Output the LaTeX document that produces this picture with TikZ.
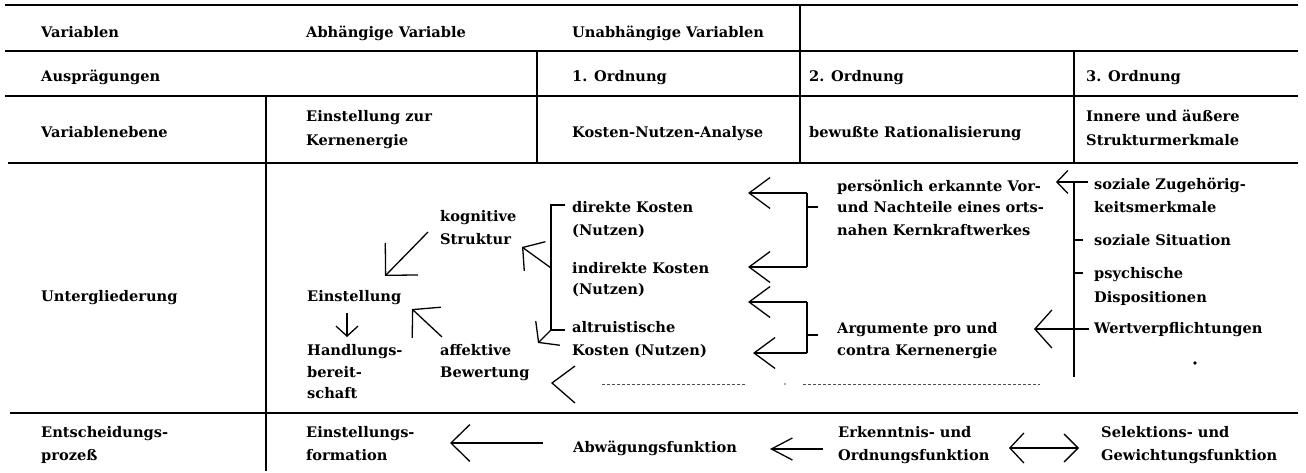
\documentclass[tikz,border=0pt]{standalone}
\usepackage{fontspec}
\setmainfont{DejaVu Serif}
\usetikzlibrary{arrows.meta}
\begin{document}
\begin{tikzpicture}[x=1pt,y=-1pt,
  txt/.style={anchor=base west, inner sep=0pt, font=\fontsize{14.6}{17}\selectfont\bfseries},
  tline/.style={line width=1.8pt},
  arr/.style={line width=1.3pt},
  barb/.style 2 args={arr,-{Straight Barb[length=#1pt,width=#2pt]}},
  dline/.style={line width=1pt, black!70, dash pattern=on 3pt off 2pt}
]
\useasboundingbox (0,0) rectangle (1306,473);
% ---------- table rules ----------
\draw[tline] (5,5) -- (1298,5);
\draw[tline] (5,51) -- (1298,51);
\draw[tline] (5,96) -- (1298,96);
\draw[tline] (8,163) -- (1298,163);
\draw[tline] (10,413) -- (1298,413);
\draw[tline] (266,96) -- (266,471);
\draw[tline] (537,51) -- (537,163);
\draw[tline] (800,5) -- (800,163);
\draw[tline] (1074,51) -- (1074,163);
% ---------- header texts ----------
\node[txt] (var) at (41,38) {Variablen};
\node[txt] (abh) at (306,38) {Abhängige Variable};
\node[txt] (unabh) at (572,38) {Unabhängige Variablen};
\node[txt] (ausp) at (41,82) {Ausprägungen};
\node[txt] (o1) at (572,82) {1. Ordnung};
\node[txt] (o2) at (809,82) {2. Ordnung};
\node[txt] (o3) at (1086,82) {3. Ordnung};
\node[txt] (vebene) at (41,138) {Variablenebene};
\node[txt] (ezk1) at (306,122) {Einstellung zur};
\node[txt] (ezk2) at (306,146) {Kernenergie};
\node[txt] (kna) at (572,138) {Kosten-Nutzen-Analyse};
\node[txt] (bewr) at (809,138) {bewußte Rationalisierung};
\node[txt] (ina1) at (1086,122) {Innere und äußere};
\node[txt] (ina2) at (1086,146) {Strukturmerkmale};
% ---------- Untergliederung ----------
\node[txt] (unterg) at (41,301) {Untergliederung};
\node[txt] (kog1) at (440,222) {kognitive};
\node[txt] (kog2) at (440,244) {Struktur};
\node[txt] (einst) at (307,301) {Einstellung};
\node[txt] (hb1) at (307,355) {Handlungs-};
\node[txt] (hb2) at (307,377) {bereit-};
\node[txt] (hb3) at (307,398) {schaft};
\node[txt] (aff1) at (440,355) {affektive};
\node[txt] (aff2) at (440,377) {Bewertung};
\node[txt] (dk1) at (572,212) {direkte Kosten};
\node[txt] (dk2) at (572,235) {(Nutzen)};
\node[txt] (ik1) at (572,273) {indirekte Kosten};
\node[txt] (ik2) at (572,294) {(Nutzen)};
\node[txt] (ak1) at (572,332) {altruistische};
\node[txt] (ak2) at (572,355) {Kosten (Nutzen)};
\node[txt] (pv1) at (837,192) {persönlich erkannte Vor-};
\node[txt] (pv2) at (837,213) {und Nachteile eines orts-};
\node[txt] (pv3) at (837,235) {nahen Kernkraftwerkes};
\node[txt] (arg1) at (837,333) {Argumente pro und};
\node[txt] (arg2) at (837,355) {contra Kernenergie};
\node[txt] (sz1) at (1094,190) {soziale Zugehörig-};
\node[txt] (sz2) at (1094,212) {keitsmerkmale};
\node[txt] (ss) at (1094,245) {soziale Situation};
\node[txt] (pd1) at (1094,278) {psychische};
\node[txt] (pd2) at (1094,302) {Dispositionen};
\node[txt] (wv) at (1094,333) {Wertverpflichtungen};
% ---------- Entscheidungsprozess ----------
\node[txt] (ep1) at (41,437) {Entscheidungs-};
\node[txt] (ep2) at (41,460) {prozeß};
\node[txt] (ef1) at (306,437) {Einstellungs-};
\node[txt] (ef2) at (306,460) {formation};
\node[txt] (abw) at (573,452) {Abwägungsfunktion};
\node[txt] (eo1) at (838,437) {Erkenntnis- und};
\node[txt] (eo2) at (838,460) {Ordnungsfunktion};
\node[txt] (sg1) at (1101,437) {Selektions- und};
\node[txt] (sg2) at (1101,460) {Gewichtungsfunktion};
% ---------- connector coordinates ----------
\coordinate (a1s) at (428,232); \coordinate (a1e) at (385,276);
\coordinate (a2s) at (347,313); \coordinate (a2e) at (347,337);
\coordinate (a3s) at (442,337); \coordinate (a3e) at (412,309);
\coordinate (bkT) at (565,205); \coordinate (bkTc) at (551,205);
\coordinate (bkB) at (565,330); \coordinate (bkBc) at (551,330);
\coordinate (bkM) at (551,268);
\coordinate (a4e) at (522,247);
\coordinate (a5e) at (538,343);
\coordinate (r1a) at (807,193); \coordinate (r1b) at (807,267);
\coordinate (r1s) at (807,207); \coordinate (r1t) at (818,207);
\coordinate (r2a) at (807,302); \coordinate (r2b) at (807,353);
\coordinate (r2s) at (807,335); \coordinate (r2t) at (818,335);
\coordinate (t1) at (748,193); \coordinate (t2) at (748,267);
\coordinate (t3) at (748,302); \coordinate (t4) at (753,353);
\coordinate (v3a) at (1074,183); \coordinate (v3b) at (1074,377);
\coordinate (sza) at (1088,182); \coordinate (szt) at (1056,182);
\coordinate (ssa) at (1074,240); \coordinate (ssb) at (1083,240);
\coordinate (pda) at (1074,273); \coordinate (pdb) at (1083,273);
\coordinate (wva) at (1089,329); \coordinate (wvt) at (1034,329);
\coordinate (dv1) at (575,366); \coordinate (dvt) at (552,383); \coordinate (dv2) at (575,403);
\coordinate (dl1) at (602,384); \coordinate (dl2) at (745,384);
\coordinate (dl3) at (803,384); \coordinate (dl4) at (1040,384);
\coordinate (b1s) at (543,443); \coordinate (b1e) at (450,443);
\coordinate (b2s) at (823,449); \coordinate (b2e) at (770,449);
\coordinate (b3a) at (1009,448); \coordinate (b3b) at (1079,448);
% ---------- connectors ----------
\draw[barb={23}{46}] (a1s) -- (a1e);
\draw[barb={10}{22}] (a2s) -- (a2e);
\draw[barb={19}{42}] (a3s) -- (a3e);
\draw[arr] (bkT) -- (bkTc) -- (bkBc) -- (bkB);
\draw[barb={15}{36}] (bkM) -- (a4e);
\draw[barb={13}{34}] (bkBc) -- (a5e);
\draw[barb={21}{31}] (r1a) -- (t1);
\draw[barb={21}{31}] (r1b) -- (t2);
\draw[arr] (r1a) -- (r1b);
\draw[arr] (r1s) -- (r1t);
\draw[barb={21}{31}] (r2a) -- (t3);
\draw[barb={21}{31}] (r2b) -- (t4);
\draw[arr] (r2a) -- (r2b);
\draw[arr] (r2s) -- (r2t);
\draw[arr] (v3a) -- (v3b);
\draw[barb={11}{23}] (sza) -- (szt);
\draw[arr] (ssa) -- (ssb);
\draw[arr] (pda) -- (pdb);
\draw[barb={17}{38}] (wva) -- (wvt);
\draw[arr] (dv1) -- (dvt) -- (dv2);
\draw[dline] (dl1) -- (dl2);
\draw[dline] (dl3) -- (dl4);
\fill[black!70] (785,384) circle (0.8);
\fill (1195,363) circle (1.8);
\draw[barb={19}{37}] (b1s) -- (b1e);
\draw[barb={21}{22}] (b2s) -- (b2e);
\draw[arr,{Straight Barb[length=14pt,width=30pt]}-{Straight Barb[length=14pt,width=28pt]}] (b3a) -- (b3b);
\end{tikzpicture}
\end{document}
